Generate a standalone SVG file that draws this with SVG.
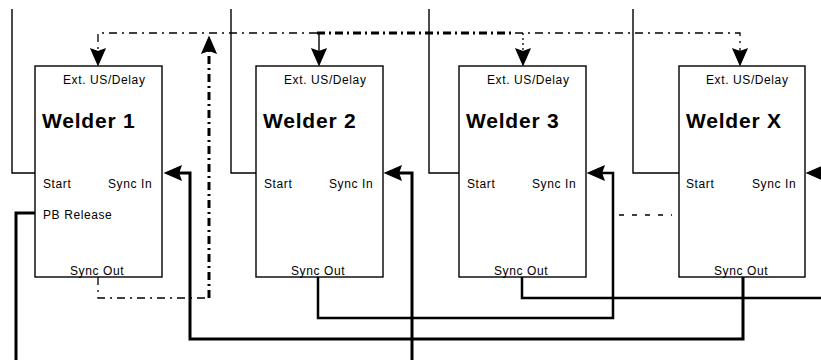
<svg xmlns="http://www.w3.org/2000/svg" width="821" height="360" viewBox="0 0 821 360">
<style>
.box{fill:#fff;stroke:#000;stroke-width:1.4}
.t{font-family:"Liberation Sans",Arial,sans-serif;font-size:12px;letter-spacing:0.6px;fill:#000}
.title{font-family:"Liberation Sans",Arial,sans-serif;font-size:21px;font-weight:bold;letter-spacing:0.8px;fill:#000}
.thin{fill:none;stroke:#000;stroke-width:1.4}
.med{fill:none;stroke:#000;stroke-width:2.5}
.thick{fill:none;stroke:#000;stroke-width:3}
.dd{fill:none;stroke:#000;stroke-width:1.3;stroke-dasharray:8 5 2 5}
.ddk{fill:none;stroke:#000;stroke-width:3;stroke-dasharray:8 4 2 4}
.dot{fill:none;stroke:#000;stroke-width:1.3;stroke-dasharray:2 3}
.dash{fill:none;stroke:#000;stroke-width:1.3;stroke-dasharray:5 8}
.ah{fill:#000;stroke:#000;stroke-width:1.2;stroke-linejoin:miter}
</style>
<defs>
<path id="arr" d="M0,0 L-16,-7 L-13.5,0 L-16,7 Z"/>
</defs>
<g id="connectors">
<path class="thin" d="M12,9 V173 H35"/>
<path class="thin" d="M231,9 V173 H256"/>
<path class="thin" d="M429,9 V173 H459"/>
<path class="thin" d="M633,9 V173 H679"/>
<path class="dd" d="M317,33 H98 V53"/>
<path class="ddk" d="M317,33 H515"/>
<path class="dd" d="M515,33 H740 V53"/>
<path class="thin" d="M319,33 V53"/>
<path class="dot" d="M523,33 V53"/>
<path class="dd" d="M98,277 V298 H209"/>
<path class="ddk" d="M209,298 V49"/>
<path class="thick" d="M743,277 V339 H190 V173 H177"/>
<path class="med" d="M318,277 V318 H613 V173 H600"/>
<path class="med" d="M522,277 V298 H821"/>
<path class="thick" d="M35,213 H16 V360"/>
<path class="thick" d="M412,360 V173 H397"/>
<path class="thick" d="M830,173 H819"/>
<path class="dash" d="M619,215 H672"/>
<use href="#arr" class="ah" transform="translate(98,65) rotate(90)"/>
<use href="#arr" class="ah" transform="translate(319,65) rotate(90)"/>
<use href="#arr" class="ah" transform="translate(523,65) rotate(90)"/>
<use href="#arr" class="ah" transform="translate(740,65) rotate(90)"/>
<use href="#arr" class="ah" transform="translate(209,37) rotate(-90)"/>
<use href="#arr" class="ah" transform="translate(165,173) rotate(180)"/>
<use href="#arr" class="ah" transform="translate(385,173) rotate(180)"/>
<use href="#arr" class="ah" transform="translate(588,173) rotate(180)"/>
<use href="#arr" class="ah" transform="translate(807,173) rotate(180)"/>
</g>
<g id="welder1">
<rect class="box" x="35" y="66" width="127" height="211"/>
<text class="t" x="63" y="84">Ext. US/Delay</text>
<text class="title" x="42" y="128">Welder 1</text>
<text class="t" x="43" y="188">Start</text>
<text class="t" x="108" y="188">Sync In</text>
<text class="t" x="43" y="219">PB Release</text>
<text class="t" x="70" y="275">Sync Out</text>
</g>
<g id="welder2">
<rect class="box" x="256" y="66" width="127" height="211"/>
<text class="t" x="284" y="84">Ext. US/Delay</text>
<text class="title" x="263" y="128">Welder 2</text>
<text class="t" x="264" y="188">Start</text>
<text class="t" x="329" y="188">Sync In</text>
<text class="t" x="291" y="275">Sync Out</text>
</g>
<g id="welder3">
<rect class="box" x="459" y="66" width="127" height="211"/>
<text class="t" x="487" y="84">Ext. US/Delay</text>
<text class="title" x="466" y="128">Welder 3</text>
<text class="t" x="467" y="188">Start</text>
<text class="t" x="532" y="188">Sync In</text>
<text class="t" x="494" y="275">Sync Out</text>
</g>
<g id="welderX">
<rect class="box" x="679" y="66" width="126" height="211"/>
<text class="t" x="706" y="84">Ext. US/Delay</text>
<text class="title" x="686" y="128">Welder X</text>
<text class="t" x="686" y="188">Start</text>
<text class="t" x="752" y="188">Sync In</text>
<text class="t" x="714" y="275">Sync Out</text>
</g>
</svg>
